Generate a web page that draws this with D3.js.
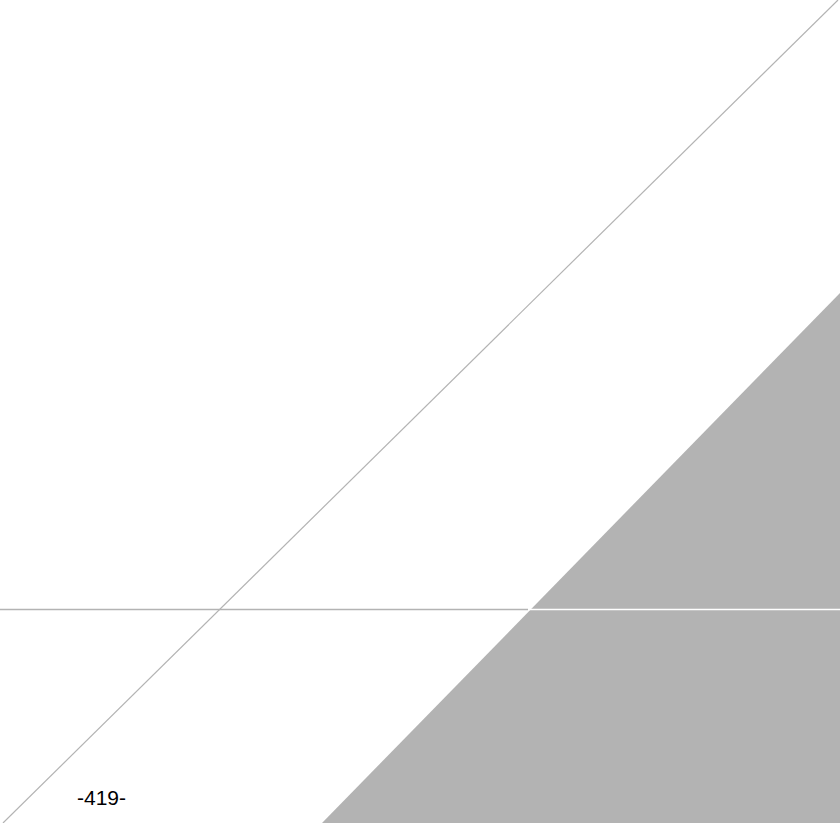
<!DOCTYPE html>
<html>
<head>
<meta charset="utf-8">
<script src="https://cdn.jsdelivr.net/npm/d3@7"></script>
<style>
  html, body { margin: 0; padding: 0; background: #fff; }
  svg { display: block; }
</style>
</head>
<body>
<div id="vis"></div>
<script>
/* Page data (page units, origin top-left) */
var diagonalLine = [[838, 0], [3, 823]];
var ruleLeft = [[0, 609.5], [528, 609.5]];
var ruleRight = [[528, 609.5], [840, 609.5]];
var shadeShape = [[840, 293], [840, 823], [322, 823]];
var pageLabel = ["-419-"];
var labelPos = [77, 805];

var width = 840, height = 823;

var x = d3.scaleLinear().domain([0, 840]).range([0, width]);
var y = d3.scaleLinear().domain([0, 823]).range([0, height]);

var line = d3.line()
    .x(function (d) { return x(d[0]); })
    .y(function (d) { return y(d[1]); });

var svg = d3.select("#vis").append("svg")
    .attr("width", width)
    .attr("height", height);

/* gray wedge */
svg.append("path")
    .attr("d", line(shadeShape) + "Z")
    .attr("fill", "#b3b3b3");

/* horizontal rule: gray on white, white over the wedge */
svg.append("path")
    .attr("d", line(ruleLeft))
    .attr("stroke", "#b3b3b3")
    .attr("stroke-width", 1.5)
    .attr("fill", "none");

svg.append("path")
    .attr("d", line(ruleRight))
    .attr("stroke", "#ffffff")
    .attr("stroke-width", 1.5)
    .attr("fill", "none");

/* thin diagonal */
svg.append("path")
    .attr("d", line(diagonalLine))
    .attr("stroke", "#b3b3b3")
    .attr("stroke-width", 1.2)
    .attr("fill", "none");

/* page number */
svg.append("g").selectAll("text")
    .data(pageLabel)
    .enter().append("text")
    .attr("x", x(labelPos[0]))
    .attr("y", y(labelPos[1]))
    .attr("font-family", "'Liberation Sans', Arial, sans-serif")
    .attr("font-size", 21)
    .attr("fill", "#000")
    .text(function (d) { return d; });
</script>
</body>
</html>
